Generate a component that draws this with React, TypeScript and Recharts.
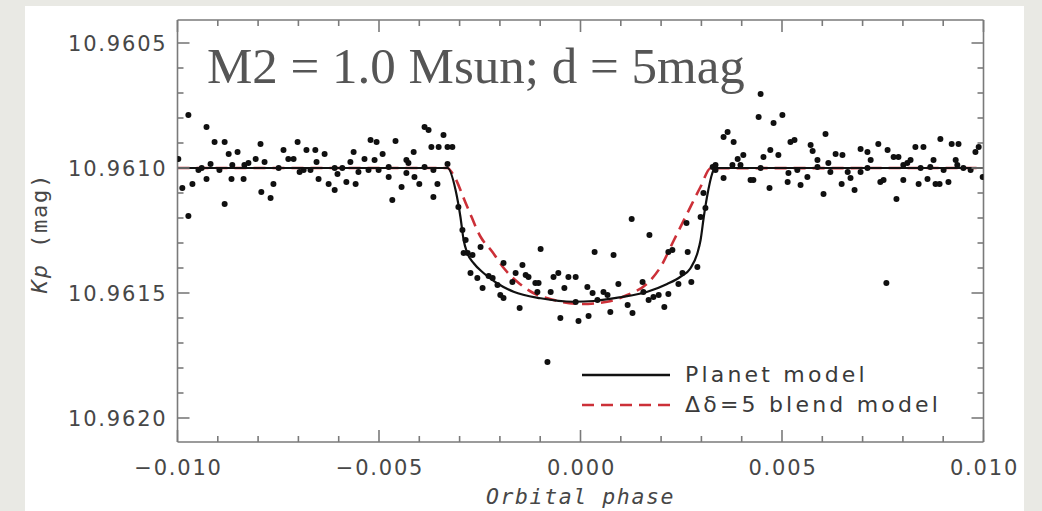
import React from 'react';
import { ComposedChart, Scatter, Line, XAxis, YAxis, Legend } from 'recharts';

// Axis ticks (major + minor)
const phaseTicks = [
  -0.01, -0.009, -0.008, -0.007, -0.006, -0.005, -0.004, -0.003, -0.002, -0.001, 0,
  0.001, 0.002, 0.003, 0.004, 0.005, 0.006, 0.007, 0.008, 0.009, 0.01,
];
const magTicks = [
  10.9605, 10.9606, 10.9607, 10.9608, 10.9609, 10.961, 10.9611, 10.9612, 10.9613, 10.9614,
  10.9615, 10.9616, 10.9617, 10.9618, 10.9619, 10.962,
];
const phaseDomain = [-0.01, 0.01];
const magDomain = [10.960408, 10.962096];

// Kepler photometry, phase-folded
const obsPhase = [
  -0.00998, -0.00988, -0.00973, -0.00973, -0.00963, -0.00948, -0.0094, -0.00928, -0.00928, -0.00918,
  -0.00908, -0.00896, -0.00883, -0.00883, -0.00873, -0.00864, -0.00866, -0.00851, -0.00834, -0.00836,
  -0.00824, -0.00806, -0.00794, -0.00784, -0.00792, -0.00769, -0.00762, -0.00749, -0.00737, -0.00725,
  -0.00712, -0.00702, -0.00697, -0.00687, -0.0068, -0.0067, -0.00658, -0.00655, -0.0065, -0.00635,
  -0.00625, -0.0061, -0.0061, -0.00603, -0.00591, -0.00581, -0.00571, -0.00563, -0.00558, -0.00551,
  -0.00536, -0.00521, -0.00526, -0.00511, -0.00506, -0.00501, -0.00491, -0.00476, -0.00476, -0.00467,
  -0.00459, -0.00444, -0.00432, -0.00427, -0.00432, -0.00414, -0.00412, -0.004, -0.00387, -0.00377,
  -0.00387, -0.0037, -0.00365, -0.00365, -0.00355, -0.0034, -0.00352, -0.0033, -0.0033, -0.00318,
  -0.00303, -0.00293, -0.00285, -0.0029, -0.0028, -0.00268, -0.00273, -0.00256, -0.00248, -0.00243,
  -0.00228, -0.00218, -0.00206, -0.00199, -0.00191, -0.00191, -0.00169, -0.00161, -0.00151, -0.00144,
  -0.00136, -0.00129, -0.00112, -0.00104, -0.00099, -0.00107, -0.00074, -0.00067, -0.00055, -0.0005,
  -0.0004, -0.0003, -0.00012, -0.00012, -0.00005, 0.00017, 0.0002, 0.0003, 0.00035, 0.00042,
  0.00057, 0.00067, 0.00074, 0.00082, 0.00094, 0.00117, 0.00129, 0.00127, 0.00154, 0.00156,
  0.00169, 0.00171, 0.00181, 0.00194, 0.00208, 0.00218, 0.00218, 0.00228, 0.00243, 0.00253,
  0.00266, 0.00263, 0.00275, 0.0029, 0.00298, 0.0031, 0.00305, 0.00335, -0.00082, 0.00328,
  0.00335, 0.00355, 0.00365, 0.00355, 0.00377, 0.0038, 0.0039, 0.00397, 0.00404, 0.00422,
  0.00429, 0.00447, 0.00442, 0.00447, 0.00454, 0.00471, 0.00469, 0.00479, 0.00491, 0.00501,
  0.00514, 0.00516, 0.00521, 0.00531, 0.00538, 0.00546, 0.00563, 0.00571, 0.00576, 0.00588,
  0.00588, 0.00603, 0.00608, 0.00615, 0.0062, 0.00633, 0.0065, 0.00648, 0.00663, 0.0067,
  0.0068, 0.00695, 0.00695, 0.00712, 0.00712, 0.0072, 0.00739, 0.00744, 0.00752, 0.00762,
  0.00759, 0.00777, 0.00789, 0.00801, 0.00784, 0.00801, 0.00811, 0.00819, 0.00831, 0.00851,
  0.00839, 0.00844, 0.00861, 0.00868, 0.00876, 0.00893, 0.00881, 0.00891, 0.00901, 0.00913,
  0.00921, 0.00938, 0.00931, 0.00935, 0.0095, 0.00968, 0.0098, 0.00988, 0.00998,
];
const obsMag = [
  10.960964, 10.96108, 10.960788, 10.961192, 10.961064, 10.961008, 10.961, 10.960836, 10.961044, 10.960984,
  10.960896, 10.961008, 10.960896, 10.961144, 10.960944, 10.960988, 10.961044, 10.960936, 10.960988, 10.961044,
  10.96098, 10.960964, 10.960904, 10.960976, 10.961096, 10.96112, 10.961064, 10.961, 10.960928, 10.960964,
  10.960964, 10.960896, 10.961016, 10.961008, 10.960928, 10.961008, 10.960928, 10.960976, 10.961044, 10.960944,
  10.961064, 10.961088, 10.961, 10.961024, 10.961, 10.961056, 10.960976, 10.960936, 10.961064, 10.961016,
  10.960964, 10.960888, 10.961008, 10.960968, 10.960896, 10.961008, 10.960944, 10.961036, 10.960996, 10.961128,
  10.960892, 10.961076, 10.960968, 10.96098, 10.96102, 10.960936, 10.961036, 10.961064, 10.960836, 10.960848,
  10.960996, 10.960916, 10.961116, 10.961008, 10.961064, 10.960868, 10.960916, 10.960916, 10.960984, 10.960916,
  10.961156, 10.961248, 10.961288, 10.96134, 10.96134, 10.961348, 10.96142, 10.96144, 10.961316, 10.96148,
  10.961432, 10.96144, 10.961468, 10.961508, 10.96152, 10.96138, 10.961456, 10.96142, 10.96156, 10.961388,
  10.961428, 10.961436, 10.96146, 10.96146, 10.961324, 10.961496, 10.961496, 10.961436, 10.96142, 10.9616,
  10.96148, 10.961436, 10.961436, 10.961536, 10.961612, 10.961476, 10.961592, 10.9615, 10.961336, 10.961528,
  10.961496, 10.961508, 10.961576, 10.961348, 10.961464, 10.961548, 10.96158, 10.961204, 10.961456, 10.961496,
  10.961528, 10.961268, 10.961516, 10.961508, 10.961556, 10.961504, 10.961336, 10.961328, 10.961464, 10.96142,
  10.961336, 10.96122, 10.961456, 10.961396, 10.961196, 10.96116, 10.9611, 10.960988, 10.961776, 10.960996,
  10.961008, 10.960876, 10.960856, 10.96104, 10.960988, 10.960896, 10.960964, 10.960988, 10.960948, 10.961048,
  10.961048, 10.960704, 10.960796, 10.961, 10.960956, 10.960928, 10.96108, 10.96082, 10.960948, 10.960788,
  10.961056, 10.96102, 10.960896, 10.960888, 10.961008, 10.961068, 10.961036, 10.960908, 10.960932, 10.960968,
  10.960996, 10.961104, 10.960864, 10.96098, 10.961016, 10.960944, 10.960948, 10.961064, 10.961016, 10.96104,
  10.961088, 10.960924, 10.961016, 10.960936, 10.961, 10.960968, 10.960904, 10.961056, 10.961048, 10.960928,
  10.96146, 10.960956, 10.960956, 10.961048, 10.961124, 10.960988, 10.96098, 10.960968, 10.960916, 10.960916,
  10.961064, 10.961, 10.961044, 10.960996, 10.960968, 10.960884, 10.961064, 10.961064, 10.961008, 10.961056,
  10.960904, 10.960904, 10.960968, 10.960988, 10.961, 10.961008, 10.960936, 10.960916, 10.961036,
];

// Planet transit model
const planetPhase = [
  -0.01, -0.0033, -0.0031, -0.00298, -0.0029, -0.00281, -0.00265, -0.0024, -0.00207, -0.00166,
  -0.00099, -0.00017, 0.00033, 0.00099, 0.00166, 0.00215, 0.00248, 0.00273, 0.0029, 0.00298,
  0.00306, 0.00314, 0.00327, 0.00333, 0.01,
];
const planetMag = [
  10.961, 10.961, 10.961088, 10.961195, 10.961288, 10.96134, 10.961381, 10.961421, 10.961461, 10.961495,
  10.961521, 10.961535, 10.961532, 10.961517, 10.961495, 10.961464, 10.961435, 10.961401, 10.961341, 10.961288,
  10.961195, 10.961115, 10.961021, 10.961, 10.961,
];

// Blend scenario model (delta = 5 mag)
const blendPhase = [
  -0.01, -0.0033, -0.00318, -0.00281, -0.00248, -0.00219, -0.0019, -0.00157, -0.00116, -0.00066,
  0, 0.00066, 0.00116, 0.00166, 0.00199, 0.00232, 0.00265, 0.00298, 0.00323, 0.01,
];
const blendMag = [
  10.961, 10.961, 10.961021, 10.961155, 10.961275, 10.961335, 10.961401, 10.961455, 10.961501, 10.961528,
  10.961544, 10.961535, 10.961508, 10.961461, 10.961395, 10.961288, 10.961181, 10.961075, 10.961001, 10.961,
];

const legendItems = [
  { name: 'Planet model', color: '#111111', dash: undefined as string | undefined },
  { name: '\u0394\u03b4=5 blend model', color: '#cc3038', dash: '12 7' },
];

const observed = obsPhase.map((p, i) => ({ phase: p, mag: obsMag[i] }));
const planet = planetPhase.map((p, i) => ({ phase: p, mag: planetMag[i] }));
const blend = blendPhase.map((p, i) => ({ phase: p, mag: blendMag[i] }));

const AXIS = '#7a7a7a';
const TEXT = '#474747';
const MAJOR = 12;
const MINOR = 6;
const tickFont = { fontFamily: 'DejaVu Sans', fontSize: 21, letterSpacing: 1.8, fill: TEXT };

const isMajorPhase = (v: number) => Math.abs(Math.round(v * 1000)) % 5 === 0;
const isMajorMag = (v: number) => Math.round(v * 10000) % 5 === 0;
const fmtPhase = (v: number) => (v < -1e-9 ? '\u2212' : '') + Math.abs(v).toFixed(3);

function BottomTick(props: any) {
  const { x, y, payload } = props;
  const major = isMajorPhase(payload.value);
  return (
    <g>
      <line x1={x} y1={y} x2={x} y2={y - (major ? MAJOR : MINOR)} stroke={AXIS} strokeWidth={1.6} />
      {major && (
        <text x={x + 1} y={y + 33} textAnchor="middle" {...tickFont}>
          {fmtPhase(payload.value)}
        </text>
      )}
    </g>
  );
}

function TopTick(props: any) {
  const { x, y, payload } = props;
  const major = isMajorPhase(payload.value);
  return <line x1={x} y1={y} x2={x} y2={y + (major ? MAJOR : MINOR)} stroke={AXIS} strokeWidth={1.6} />;
}

function LeftTick(props: any) {
  const { x, y, payload } = props;
  const major = isMajorMag(payload.value);
  return (
    <g>
      <line x1={x} y1={y} x2={x + (major ? MAJOR : MINOR)} y2={y} stroke={AXIS} strokeWidth={1.6} />
      {major && (
        <text x={x - 10} y={y + 7.5} textAnchor="end" {...tickFont}>
          {payload.value.toFixed(4)}
        </text>
      )}
    </g>
  );
}

function RightTick(props: any) {
  const { x, y, payload } = props;
  const major = isMajorMag(payload.value);
  return <line x1={x} y1={y} x2={x - (major ? MAJOR : MINOR)} y2={y} stroke={AXIS} strokeWidth={1.6} />;
}

function Dot(props: any) {
  const { cx, cy } = props;
  return <circle cx={cx} cy={cy} r={3} fill="#101010" />;
}

function LegendBox() {
  return (
    <svg width={400} height={64} style={{ display: 'block', overflow: 'visible' }}>
      {legendItems.map((it, i) => (
        <g key={it.name}>
          <line x1={7} x2={95} y1={17 + i * 30} y2={17 + i * 30} stroke={it.color} strokeWidth={2.4}
            strokeDasharray={it.dash} />
          <text x={110} y={24 + i * 30} fontFamily="DejaVu Sans" fontSize={22} letterSpacing={3.2} fill="#3a3a3a">
            {it.name}
          </text>
        </g>
      ))}
    </svg>
  );
}

export default function App() {
  return (
    <div style={{ position: 'absolute', left: 0, top: 0, width: 1042, height: 511, background: '#e9e9e4', overflow: 'hidden' }}>
      <div style={{ position: 'absolute', left: 25, top: 6, width: 999, height: 520, background: '#ffffff' }} />
      <div style={{ position: 'absolute', left: 0, top: 0 }}>
        <ComposedChart width={1042} height={511} margin={{ top: 19, right: 57.5, bottom: 19, left: 27.5 }}>
          <XAxis
            dataKey="phase"
            type="number"
            domain={phaseDomain}
            ticks={phaseTicks}
            interval={0}
            allowDataOverflow
            height={50}
            tickSize={0}
            tickMargin={0}
            tickLine={false}
            axisLine={{ stroke: AXIS, strokeWidth: 1.6 }}
            tick={<BottomTick />}
            label={(p: any) => {
              const vb = p.viewBox;
              return (
                <text x={vb.x + vb.width / 2} y={vb.y + 62} textAnchor="middle" fontFamily="DejaVu Sans Mono"
                  fontStyle="italic" fontSize={21.5} letterSpacing={1.6} fill={TEXT}>
                  Orbital phase
                </text>
              );
            }}
          />
          <XAxis
            xAxisId="top"
            orientation="top"
            dataKey="phase"
            type="number"
            domain={phaseDomain}
            ticks={phaseTicks}
            interval={0}
            allowDataOverflow
            height={1}
            tickSize={0}
            tickMargin={0}
            tickLine={false}
            axisLine={{ stroke: AXIS, strokeWidth: 1.6 }}
            tick={<TopTick />}
            label={(p: any) => {
              const vb = p.viewBox;
              return (
                <text x={vb.x + 29.5} y={vb.y + 64} fontFamily="Liberation Serif" fontSize={51} fill="#555555">
                  M2 = 1.0 Msun; d = 5mag
                </text>
              );
            }}
          />
          <YAxis
            dataKey="mag"
            type="number"
            domain={magDomain}
            reversed
            ticks={magTicks}
            interval={0}
            allowDataOverflow
            width={150}
            tickSize={0}
            tickMargin={0}
            tickLine={false}
            axisLine={{ stroke: AXIS, strokeWidth: 1.6 }}
            tick={<LeftTick />}
            label={(p: any) => {
              const vb = p.viewBox;
              const cx = vb.x + 11;
              const cy = vb.y + vb.height / 2 + 2;
              return (
                <text x={cx} y={cy} transform={`rotate(-90 ${cx} ${cy})`} textAnchor="middle" dominantBaseline="central"
                  fontFamily="DejaVu Sans Mono" fontSize={22} letterSpacing={1.8} fill={TEXT}>
                  <tspan fontStyle="italic">Kp</tspan>
                  <tspan> (mag)</tspan>
                </text>
              );
            }}
          />
          <YAxis
            yAxisId="right"
            orientation="right"
            dataKey="mag"
            type="number"
            domain={magDomain}
            reversed
            ticks={magTicks}
            interval={0}
            allowDataOverflow
            width={1}
            tickSize={0}
            tickMargin={0}
            tickLine={false}
            axisLine={{ stroke: AXIS, strokeWidth: 1.6 }}
            tick={<RightTick />}
          />
          <Scatter data={observed} dataKey="mag" shape={<Dot />} legendType="none" isAnimationActive={false} />
          <Line data={blend} dataKey="mag" name={legendItems[1].name} type="monotone" stroke="#cc3038"
            strokeWidth={2.6} strokeDasharray="12 7" dot={false} activeDot={false} isAnimationActive={false} />
          <Line data={planet} dataKey="mag" name={legendItems[0].name} type="monotone" stroke="#111111"
            strokeWidth={2.2} dot={false} activeDot={false} isAnimationActive={false} />
          <Legend
            layout="horizontal"
            verticalAlign="middle"
            align="center"
            content={() => <LegendBox />}
            wrapperStyle={{ position: 'absolute', left: 575, top: 358, width: 400, height: 64 }}
          />
        </ComposedChart>
      </div>
    </div>
  );
}
